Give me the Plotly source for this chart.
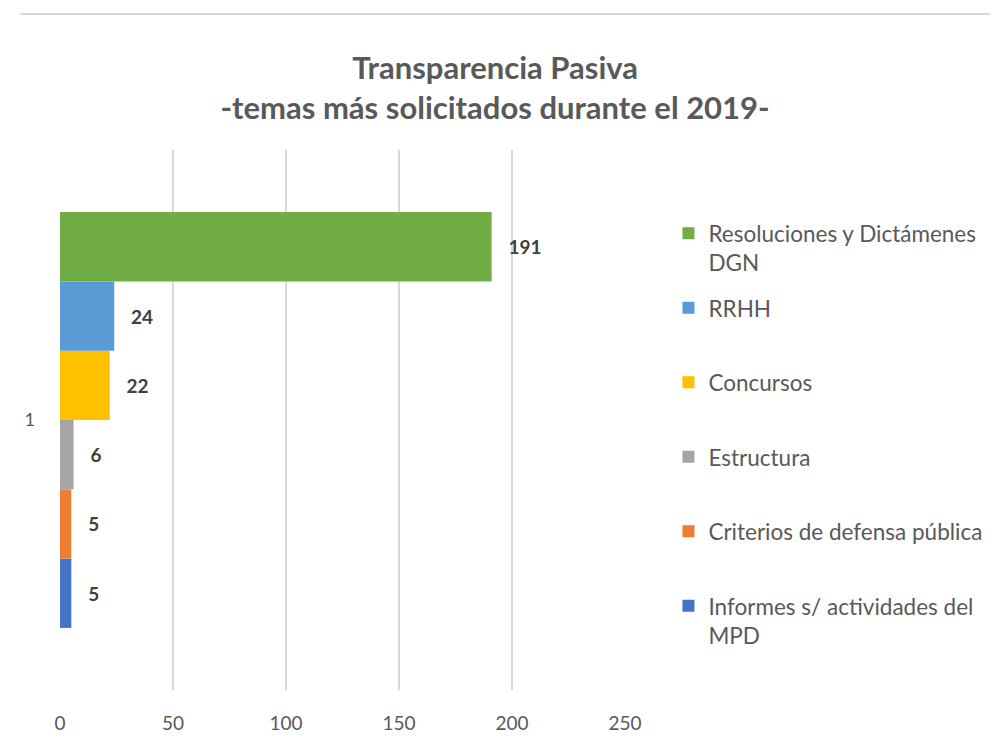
import plotly.graph_objects as go

# data
category = ["1"]
series_names = [
    "Informes s/ actividades del<br>MPD",
    "Criterios de defensa pública",
    "Estructura",
    "Concursos",
    "RRHH",
    "Resoluciones y Dictámenes<br>DGN",
]
series_values = [5, 5, 6, 22, 24, 191]
series_colors = ["#4472C4", "#ED7D31", "#A5A5A5", "#FFC000", "#5B9BD5", "#70AD47"]
x_ticks = [0, 50, 100, 150, 200, 250]

FONT = "Lato, 'Open Sans', sans-serif"

fig = go.Figure()
n = len(series_names)
for i, (name, val, col) in enumerate(zip(series_names, series_values, series_colors)):
    # pad single-line legend entries to two lines so all items share the same height
    legend_name = name if "<br>" in name else name + "<br>\u00a0"
    fig.add_trace(go.Bar(
        y=category, x=[val], name=legend_name, orientation="h",
        marker=dict(color=col, line=dict(width=0)),
        text=["\u00a0\u00a0\u00a0" + str(val)], textposition="outside",
        textfont=dict(family=FONT, size=19, color="#404040", weight="bold"),
        cliponaxis=False, legendgroup=f"g{i}", legendrank=n - i,
    ))

fig.update_layout(
    width=990, height=738,
    paper_bgcolor="white", plot_bgcolor="white",
    margin=dict(l=52, r=372, t=142, b=56),
    barmode="group", bargap=0.23, bargroupgap=0,
    title=dict(
        text="<b>Transparencia Pasiva<br>-temas más solicitados durante el 2019-</b>",
        x=0.492, xanchor="center", y=0.904, yanchor="top",
        font=dict(family=FONT, size=31, color="#595959"),
    ),
    xaxis=dict(
        range=[0, 250], tickvals=x_ticks, showgrid=True, gridcolor="#d9d9d9", gridwidth=1.5,
        zeroline=False, showline=False, ticklabelstandoff=20, automargin=False,
        tickfont=dict(family=FONT, size=19, color="#595959"),
    ),
    yaxis=dict(
        type="category", showgrid=False, zeroline=False, showline=False, automargin=False,
        ticklabelstandoff=24, tickfont=dict(family=FONT, size=18, color="#595959"),
    ),
    legend=dict(
        x=1.075, xanchor="left", y=0.885, yanchor="top",
        traceorder="grouped", tracegroupgap=13, valign="top",
        font=dict(family=FONT, size=22.5, color="#595959"),
    ),
    showlegend=True,
    shapes=[dict(type="line", xref="paper", yref="paper",
                 x0=-0.07, x1=1.66, y0=1.252, y1=1.252,
                 line=dict(color="#d9d9d9", width=2))],
)

fig.write_html("out.html")
